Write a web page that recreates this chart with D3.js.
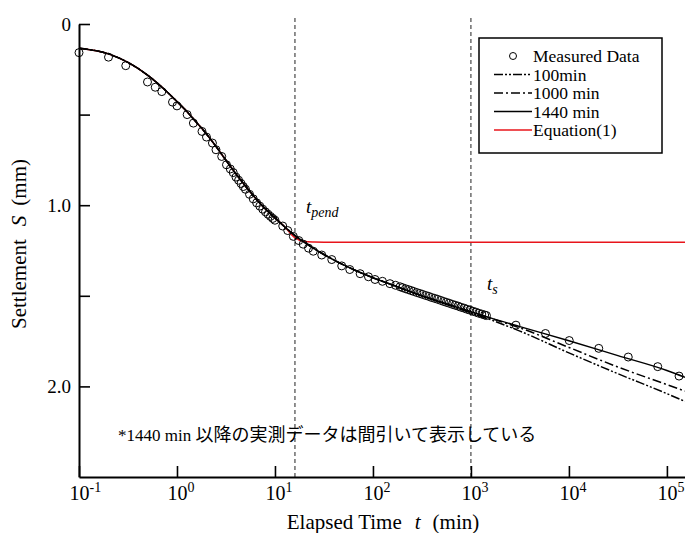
<!DOCTYPE html>
<html>
<head>
<meta charset="utf-8">
<script src="https://cdn.jsdelivr.net/npm/d3@7"></script>
<style>
  body { margin: 0; background: #fff; }
  svg { display: block; }
  svg text { font-family: 'Liberation Serif', 'Times New Roman', Times, 'DejaVu Serif', serif !important; fill: #000; }
  svg text tspan.jp { font-family: 'Noto Sans CJK JP', sans-serif !important; }
</style>
</head>
<body>
<div id="chart"></div>
<script>
// measured settlement (min, mm)
var measTime = [0.1, 0.2, 0.3, 0.5, 0.6, 0.7, 0.9, 1.0, 1.27, 1.47, 1.8, 2.0, 2.3, 2.5, 2.86, 3.2,
  3.5, 3.75, 4.0, 4.25, 4.5, 4.75, 5.0, 5.5, 6.0, 6.5, 7.0, 7.5, 8.0, 8.5, 9.0, 9.5, 10,
  12, 13.5, 15.4, 17.5, 19.4, 22, 24.6, 30, 38, 48, 58, 74, 90, 105, 125, 149, 170, 189,
  200, 215, 230, 245, 260, 280, 300, 320, 345, 370, 395, 425, 455, 490, 525, 560, 600, 645,
  690, 740, 790, 850, 910, 975, 1045, 1120, 1200, 1290, 1380, 1440,
  2880, 5760, 10080, 20160, 40320, 80640, 133000];
var measS = [0.158, 0.183, 0.23, 0.32, 0.349, 0.373, 0.431, 0.452, 0.50, 0.547, 0.593, 0.624, 0.657, 0.694, 0.731, 0.777,
  0.80, 0.82, 0.845, 0.862, 0.88, 0.897, 0.912, 0.94, 0.965, 0.987, 1.005, 1.022, 1.037, 1.05, 1.062, 1.073, 1.083,
  1.115, 1.14, 1.172, 1.195, 1.215, 1.237, 1.254, 1.275, 1.30, 1.335, 1.355, 1.378, 1.395, 1.41, 1.42, 1.433, 1.442, 1.45,
  1.455, 1.461, 1.466, 1.471, 1.476, 1.482, 1.487, 1.492, 1.498, 1.503, 1.509, 1.514, 1.519, 1.525, 1.531, 1.536, 1.541, 1.547,
  1.552, 1.557, 1.563, 1.568, 1.574, 1.579, 1.585, 1.590, 1.596, 1.601, 1.606, 1.609,
  1.662, 1.708, 1.747, 1.79, 1.838, 1.891, 1.943];

// fitted curves (min, mm)
var fitTime = [0.1, 0.2, 0.316, 0.5, 0.794, 1, 1.26, 1.58, 2, 2.51, 3.16, 3.98, 5.01, 6.31, 7.94, 10,
  12.6, 15.8, 20, 25.1, 31.6, 39.8, 63.1, 100, 158, 316, 631, 1000, 1585, 3162, 10000, 31623, 100000, 153000];
var fit1440 = [0.134, 0.165, 0.212, 0.282, 0.375, 0.428, 0.483, 0.543, 0.607, 0.677, 0.752, 0.826, 0.895, 0.96, 1.02, 1.07,
  1.12, 1.165, 1.205, 1.24, 1.272, 1.302, 1.355, 1.40, 1.44, 1.50, 1.553, 1.588, 1.622, 1.67, 1.748, 1.83, 1.912, 1.95];
var fit1000 = [0.134, 0.165, 0.212, 0.282, 0.375, 0.428, 0.483, 0.543, 0.607, 0.677, 0.752, 0.826, 0.895, 0.96, 1.02, 1.07,
  1.12, 1.165, 1.205, 1.24, 1.272, 1.302, 1.355, 1.40, 1.44, 1.50, 1.553, 1.588, 1.624, 1.677, 1.785, 1.893, 1.99, 2.026];
var fit100 = [0.134, 0.165, 0.212, 0.282, 0.375, 0.428, 0.483, 0.543, 0.607, 0.677, 0.752, 0.826, 0.895, 0.96, 1.02, 1.07,
  1.12, 1.165, 1.205, 1.24, 1.272, 1.302, 1.355, 1.40, 1.44, 1.50, 1.555, 1.593, 1.632, 1.695, 1.815, 1.93, 2.04, 2.083];

// Equation(1)
var eqTime = [0.1, 0.2, 0.316, 0.5, 0.794, 1, 1.26, 1.58, 2, 2.51, 3.16, 3.98, 5.01, 6.31, 7.94, 10,
  12.6, 15.8, 20, 25.1, 31.6, 100, 1000, 10000, 153000];
var eqS = [0.134, 0.165, 0.212, 0.282, 0.375, 0.428, 0.483, 0.543, 0.607, 0.677, 0.752, 0.826, 0.895, 0.96, 1.02, 1.07,
  1.12, 1.178, 1.2, 1.203, 1.204, 1.205, 1.205, 1.205, 1.205];

var xTicks = [0.1, 1, 10, 100, 1000, 10000, 100000];
var yTicks = [0, 0.5, 1, 1.5, 2];
var tPend = 16, tS = 1000;

var legendNames = ["Measured Data", "100min", "1000 min", "1440 min", "Equation(1)"];

var SERIF = "'Liberation Serif', 'Times New Roman', Times, 'DejaVu Serif', serif";
var W = 685, H = 533;
var svg = d3.select("#chart").append("svg").attr("width", W).attr("height", H)
  .attr("font-family", SERIF);

var x = d3.scaleLog().domain([0.1, 153000]).range([79, 685]);
var y = d3.scaleLinear().domain([0, 2.5]).range([24, 477]);

// dashed markers
svg.selectAll(".vmark")
  .data([tPend, tS])
  .enter().append("line")
  .attr("x1", function(d) { return x(d); })
  .attr("x2", function(d) { return x(d); })
  .attr("y1", 18).attr("y2", 477)
  .attr("stroke", "#222").attr("stroke-width", 1)
  .attr("stroke-dasharray", "4,3");

var line = d3.line().curve(d3.curveMonotoneX)
  .x(function(d) { return x(d[0]); })
  .y(function(d) { return y(d[1]); });

svg.append("path").datum(d3.zip(eqTime, eqS))
  .attr("d", line).attr("fill", "none").attr("stroke", "#e8141b").attr("stroke-width", 1.5);

svg.append("path").datum(d3.zip(fitTime, fit100))
  .attr("d", line).attr("fill", "none").attr("stroke", "#000").attr("stroke-width", 1.5)
  .attr("stroke-dasharray", "9,2,2,2,2,2");
svg.append("path").datum(d3.zip(fitTime, fit1000))
  .attr("d", line).attr("fill", "none").attr("stroke", "#000").attr("stroke-width", 1.5)
  .attr("stroke-dasharray", "9,3,2,3");
svg.append("path").datum(d3.zip(fitTime, fit1440))
  .attr("d", line).attr("fill", "none").attr("stroke", "#000").attr("stroke-width", 1.5);

svg.selectAll(".meas")
  .data(d3.zip(measTime, measS))
  .enter().append("circle")
  .attr("cx", function(d) { return x(d[0]); })
  .attr("cy", function(d) { return y(d[1]); })
  .attr("r", 4)
  .attr("fill", "none").attr("stroke", "#000").attr("stroke-width", 1);

// axes
var gx = svg.append("g").attr("transform", "translate(0,477)")
  .call(d3.axisBottom(x).tickValues(xTicks).tickSize(-11).tickSizeOuter(0).tickPadding(9));
gx.attr("font-family", SERIF);
gx.select(".domain").attr("stroke-width", 2);
gx.selectAll(".tick line").attr("stroke-width", 1.6);
gx.selectAll(".tick text")
  .attr("font-size", 20)
  .attr("text-anchor", "start").attr("x", -10)
  .text(null)
  .each(function(d) {
    var t = d3.select(this);
    t.append("tspan").text("10");
    t.append("tspan").attr("dy", -8).attr("font-size", 14).text(Math.round(Math.log10(d)));
  });

var gy = svg.append("g").attr("transform", "translate(79,0)")
  .call(d3.axisLeft(y).tickValues(yTicks).tickSize(-11).tickSizeOuter(0).tickPadding(8)
    .tickFormat(function(d) { return d === 0 ? "0" : (d % 1 === 0 ? d.toFixed(1) : ""); }));
gy.attr("font-family", SERIF);
gy.select(".domain").attr("stroke-width", 2);
gy.selectAll(".tick line").attr("stroke-width", 1.6);
gy.selectAll(".tick text").attr("font-size", 19);

// axis titles
var xt = svg.append("text").attr("x", 383).attr("y", 529).attr("text-anchor", "middle").attr("font-size", 21);
xt.append("tspan").text("Elapsed Time");
xt.append("tspan").attr("dx", 13).attr("font-style", "italic").text("t");
xt.append("tspan").attr("dx", 12).text("(min)");

var yt = svg.append("text").attr("transform", "translate(26,244) rotate(-90)")
  .attr("text-anchor", "middle").attr("font-size", 21);
yt.append("tspan").text("Settlement");
yt.append("tspan").attr("dx", 13).attr("font-style", "italic").text("S");
yt.append("tspan").attr("dx", 10).text("(mm)");

// marker labels
var tp = svg.append("text").attr("x", 306).attr("y", 213).attr("font-size", 19).attr("font-style", "italic");
tp.append("tspan").text("t");
tp.append("tspan").attr("dy", 4).attr("font-size", 14).text("pend");
var ts = svg.append("text").attr("x", 487).attr("y", 290).attr("font-size", 19).attr("font-style", "italic");
ts.append("tspan").text("t");
ts.append("tspan").attr("dy", 4).attr("font-size", 14).text("s");

// note
var note = svg.append("text").attr("x", 118).attr("y", 441).attr("font-size", 17);
note.append("tspan").text("*1440 min ");
note.append("tspan").attr("class", "jp").attr("font-size", 18)
  .text("以降の実測データは間引いて表示している");

// legend
var lg = svg.append("g");
lg.append("rect").attr("x", 479).attr("y", 38).attr("width", 183).attr("height", 115)
  .attr("fill", "#fff").attr("stroke", "#000").attr("stroke-width", 1.5);
var ly = d3.scalePoint().domain(legendNames).range([56, 130]);
lg.append("circle").attr("cx", 513).attr("cy", ly(legendNames[0])).attr("r", 3.5)
  .attr("fill", "none").attr("stroke", "#000");
var legendDash = [null, "9,2,2,2,2,2", "9,3,2,3", null, null];
var legendColor = [null, "#000", "#000", "#000", "#e8141b"];
legendNames.forEach(function(n, i) {
  if (i > 0) {
    lg.append("line").attr("x1", 494).attr("x2", 532)
      .attr("y1", ly(n)).attr("y2", ly(n))
      .attr("stroke", legendColor[i]).attr("stroke-width", 1.5)
      .attr("stroke-dasharray", legendDash[i]);
  }
  lg.append("text").attr("x", 533).attr("y", ly(n) + 6).attr("font-size", 17.5).text(n);
});
</script>
</body>
</html>
